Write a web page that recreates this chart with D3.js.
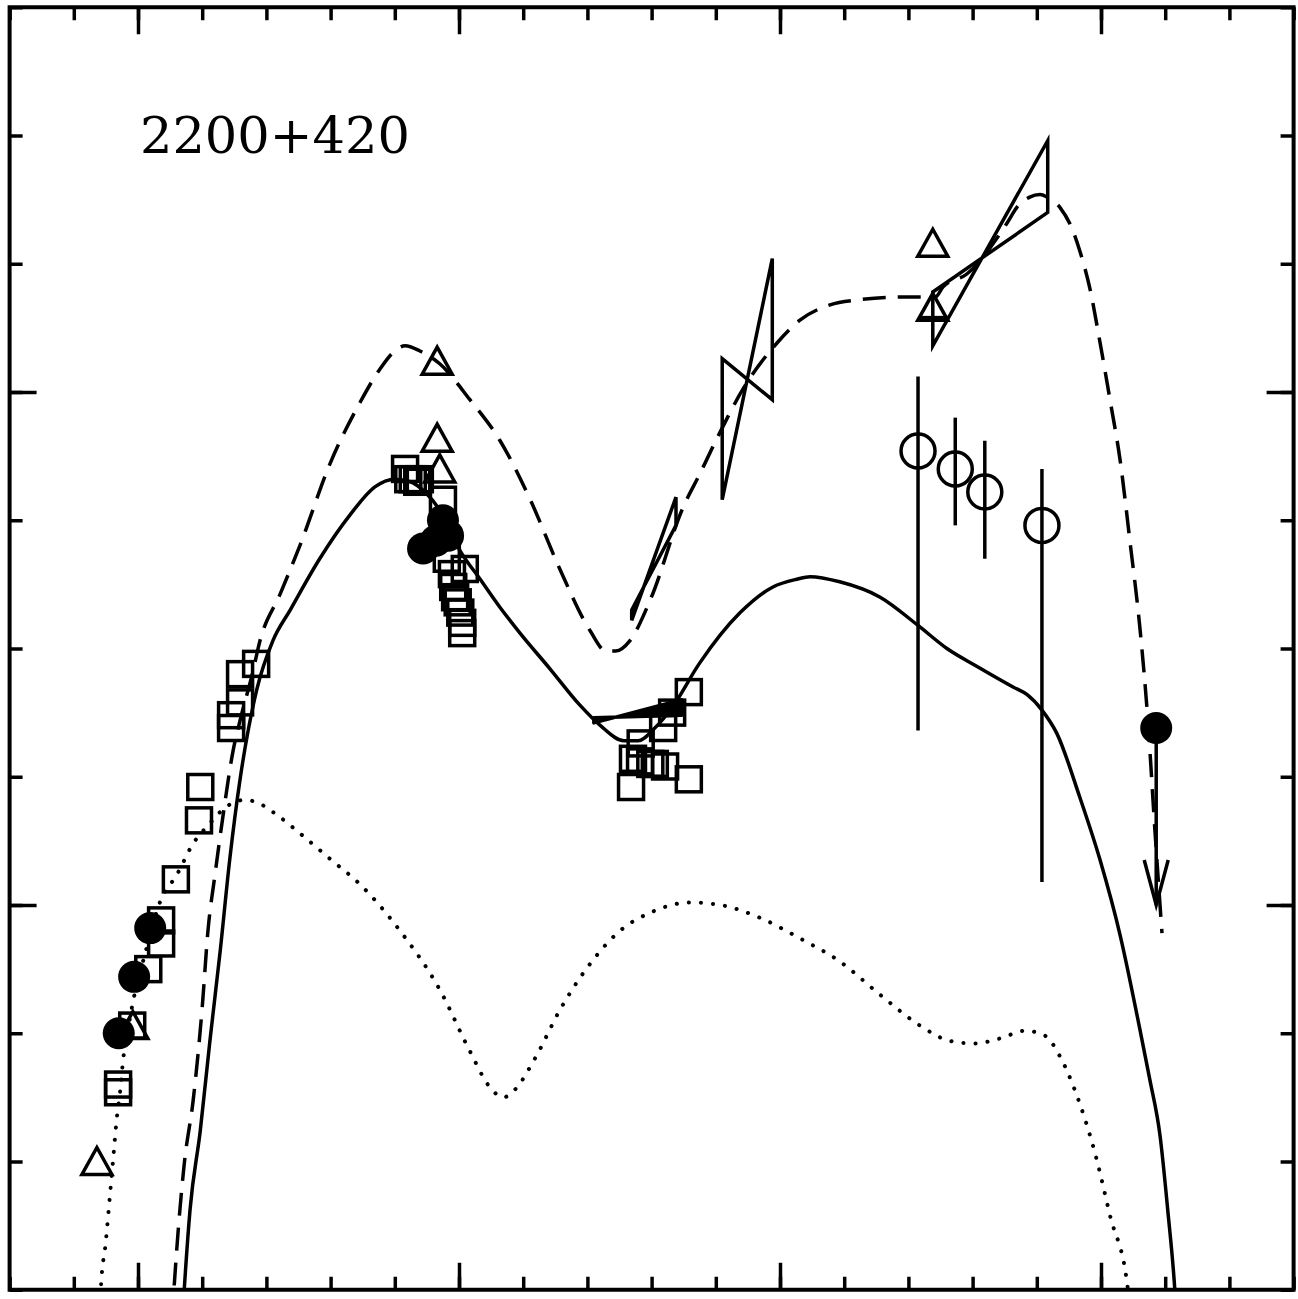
<!DOCTYPE html>
<html>
<head>
<meta charset="utf-8">
<script src="https://cdn.jsdelivr.net/npm/d3@7"></script>
<style>
  html, body { margin: 0; padding: 0; background: #fff; }
  svg { display: block; }
</style>
</head>
<body>
<svg id="chart" width="1298" height="1299"></svg>
<script>
// --- data: log nu [Hz] vs log nuFnu ---
const sourceName = "2200+420";

const xMinorTicks = d3.range(8, 29, 1);
const xMajorTicks = [10, 15, 20, 25];
const yMinorTicks = d3.range(-14.5, -9.49, 0.5);
const yMajorTicks = [-13, -11];

// model curves
const solidModel = [[10.69,-14.62],[10.72,-14.50],[10.81,-14.19],[10.97,-13.88],[11.12,-13.53],[11.28,-13.18],[11.43,-12.82],[11.59,-12.51],[11.85,-12.16],[12.10,-11.97],[12.37,-11.85],[12.83,-11.65],[13.30,-11.48],[13.69,-11.37],[14.00,-11.34],[14.24,-11.35],[14.47,-11.39],[14.70,-11.46],[15.02,-11.62],[15.33,-11.73],[15.64,-11.84],[15.95,-11.94],[16.42,-12.08],[16.88,-12.22],[17.20,-12.30],[17.57,-12.36],[17.79,-12.36],[18.05,-12.31],[18.32,-12.23],[18.74,-12.06],[19.38,-11.86],[19.89,-11.76],[20.26,-11.73],[20.47,-11.72],[20.93,-11.74],[21.56,-11.80],[22.15,-11.91],[22.60,-12.00],[23.07,-12.07],[23.63,-12.15],[23.85,-12.18],[24.08,-12.24],[24.31,-12.33],[24.67,-12.58],[24.98,-12.82],[25.30,-13.12],[25.61,-13.49],[25.76,-13.68],[25.92,-13.90],[26.04,-14.19],[26.15,-14.50],[26.18,-14.62]];

const dashedModel = [[10.53,-14.62],[10.56,-14.50],[10.72,-14.01],[10.86,-13.76],[11.00,-13.40],[11.09,-13.10],[11.20,-12.88],[11.32,-12.66],[11.48,-12.40],[11.59,-12.28],[11.78,-12.10],[11.90,-11.97],[12.21,-11.79],[12.52,-11.60],[12.99,-11.28],[13.46,-11.04],[13.77,-10.91],[14.00,-10.84],[14.16,-10.82],[14.39,-10.84],[14.70,-10.89],[15.17,-11.03],[15.64,-11.19],[16.11,-11.42],[16.57,-11.69],[17.04,-11.93],[17.29,-12.01],[17.44,-12.01],[17.66,-11.97],[17.98,-11.81],[18.49,-11.45],[18.75,-11.32],[19.02,-11.18],[19.42,-10.99],[19.95,-10.81],[20.31,-10.72],[20.78,-10.66],[21.25,-10.64],[21.87,-10.63],[22.42,-10.63],[22.54,-10.59],[22.91,-10.54],[23.54,-10.34],[23.69,-10.28],[23.89,-10.24],[24.05,-10.23],[24.16,-10.24],[24.36,-10.28],[24.56,-10.37],[24.67,-10.45],[24.83,-10.60],[24.98,-10.80],[25.14,-11.03],[25.30,-11.27],[25.45,-11.58],[25.61,-11.93],[25.73,-12.28],[25.84,-12.71],[25.95,-13.11]];

const dottedModel = [[9.40,-14.62],[9.42,-14.50],[9.50,-14.31],[9.56,-14.14],[9.61,-14.00],[9.67,-13.83],[9.72,-13.73],[9.77,-13.60],[9.84,-13.49],[9.92,-13.38],[10.11,-13.19],[10.34,-12.99],[10.61,-12.88],[10.86,-12.76],[11.09,-12.69],[11.36,-12.62],[11.67,-12.59],[11.85,-12.60],[12.17,-12.65],[12.52,-12.72],[12.99,-12.82],[13.46,-12.92],[14.08,-13.10],[14.70,-13.33],[15.17,-13.57],[15.48,-13.71],[15.69,-13.75],[15.87,-13.72],[16.18,-13.60],[16.57,-13.41],[17.04,-13.23],[17.51,-13.10],[17.98,-13.03],[18.60,-12.99],[19.07,-13.00],[19.69,-13.05],[20.31,-13.13],[20.93,-13.22],[21.56,-13.35],[22.18,-13.47],[22.65,-13.53],[23.04,-13.54],[23.43,-13.52],[23.82,-13.49],[24.13,-13.51],[24.36,-13.59],[24.59,-13.72],[24.92,-13.98],[25.14,-14.21],[25.42,-14.50],[25.45,-14.62]];

// observations
const squarePoints = [[9.69,-13.73],[9.69,-13.70],[9.91,-13.47],[10.16,-13.25],[10.36,-13.15],[10.36,-13.06],[10.59,-12.90],[10.95,-12.67],[10.97,-12.54],[11.45,-12.31],[11.45,-12.26],[11.59,-12.21],[11.59,-12.10],[11.84,-12.06],
  [14.16,-11.30],[14.21,-11.34],[14.28,-11.34],[14.35,-11.35],[14.39,-11.34],[14.75,-11.42],[14.81,-11.65],[15.09,-11.69],[14.89,-11.71],[14.91,-11.76],[14.94,-11.80],[14.98,-11.82],[15.02,-11.86],[15.05,-11.90],[15.05,-11.94],
  [18.58,-12.17],[18.32,-12.25],[18.18,-12.31],[17.83,-12.37],[17.71,-12.43],[17.82,-12.44],[17.98,-12.45],[18.05,-12.45],[18.21,-12.46],[18.58,-12.51],[17.68,-12.54]];

const filledPoints = [[9.70,-13.50],[9.94,-13.28],[10.19,-13.09],[14.75,-11.50],[14.83,-11.56],[14.64,-11.58],[14.44,-11.61]];

const trianglePoints = [[9.36,-14.00],[9.92,-13.47],[14.66,-10.88],[14.66,-11.18],[14.70,-11.30],[22.38,-10.42],[22.38,-10.67]];

// [x, y, yHigh, yLow]
const openCircles = [[22.15,-11.23,-10.94,-12.32],[22.73,-11.30,-11.10,-11.52],[23.19,-11.39,-11.19,-11.65],[24.08,-11.52,-11.30,-12.91]];

// horizontal error bars [xLow, xHigh, y]
const xErrorBars = [[22.15,22.62,-10.71]];

// upper limit [x, y, yArrowEnd]
const upperLimits = [[25.86,-12.31,-13.00]];

// bow ties [xLeft, xRight, leftTop, leftBottom, rightTop, rightBottom]
const bowTies = [[17.69,18.38,-11.85,-11.89,-11.41,-11.52],
  [19.10,19.88,-10.87,-11.42,-10.48,-11.03],
  [22.38,24.17,-10.61,-10.82,-10.02,-10.30]];
const xrayBowTie = [17.10,18.47,-12.27,-12.29,-12.20,-12.26];

// --- chart ---
const LW = 3.5; // line width used throughout
const svg = d3.select("#chart");
const x = d3.scaleLinear().domain([8, 28]).range([9.6, 1293.6]);
const y = d3.scaleLinear().domain([-14.5, -9.5]).range([1289.75, 7.25]);

svg.append("defs").append("clipPath").attr("id", "plotClip")
  .append("rect")
  .attr("x", x(8)).attr("y", y(-9.5))
  .attr("width", x(28) - x(8)).attr("height", y(-14.5) - y(-9.5));

const plot = svg.append("g").attr("clip-path", "url(#plotClip)");

const line = d3.line()
  .x((d) => x(d[0]))
  .y((d) => y(d[1]))
  .curve(d3.curveMonotoneX);

// model curves
plot.append("path").datum(dottedModel).attr("d", line)
  .attr("fill", "none").attr("stroke", "#000").attr("stroke-width", 4)
  .attr("stroke-linecap", "round").attr("stroke-dasharray", "0.1 12");
plot.append("path").datum(dashedModel).attr("d", line)
  .attr("fill", "none").attr("stroke", "#000").attr("stroke-width", LW)
  .attr("stroke-dasharray", "23 12");
plot.append("path").datum(solidModel).attr("d", line)
  .attr("fill", "none").attr("stroke", "#000").attr("stroke-width", LW);

// bow ties
const bowPath = (b) => `M${x(b[0])},${y(b[2])}L${x(b[1])},${y(b[5])}L${x(b[1])},${y(b[4])}L${x(b[0])},${y(b[3])}Z`;
plot.selectAll(".bow").data(bowTies).enter().append("path")
  .attr("class", "bow").attr("d", bowPath)
  .attr("fill", "none").attr("stroke", "#000").attr("stroke-width", LW)
  .attr("stroke-linejoin", "miter");
plot.append("path").datum(xrayBowTie).attr("d", bowPath)
  .attr("fill", "#000").attr("stroke", "#000").attr("stroke-width", LW)
  .attr("stroke-linejoin", "round");

// error bars
plot.selectAll(".ebar").data(openCircles).enter().append("line")
  .attr("x1", (d) => x(d[0])).attr("x2", (d) => x(d[0]))
  .attr("y1", (d) => y(d[2])).attr("y2", (d) => y(d[3]))
  .attr("stroke", "#000").attr("stroke-width", LW);
plot.selectAll(".xbar").data(xErrorBars).enter().append("line")
  .attr("x1", (d) => x(d[0])).attr("x2", (d) => x(d[1]))
  .attr("y1", (d) => y(d[2])).attr("y2", (d) => y(d[2]))
  .attr("stroke", "#000").attr("stroke-width", LW);

// open circles
plot.selectAll(".ocirc").data(openCircles).enter().append("circle")
  .attr("cx", (d) => x(d[0])).attr("cy", (d) => y(d[1])).attr("r", 17)
  .attr("fill", "none").attr("stroke", "#000").attr("stroke-width", LW);

// squares
plot.selectAll(".sq").data(squarePoints).enter().append("rect")
  .attr("x", (d) => x(d[0]) - 12.5).attr("y", (d) => y(d[1]) - 12.5)
  .attr("width", 25).attr("height", 25)
  .attr("fill", "none").attr("stroke", "#000").attr("stroke-width", LW);

// triangles
plot.selectAll(".tri").data(trianglePoints).enter().append("path")
  .attr("d", (d) => {
    const cx = x(d[0]), cy = y(d[1]);
    return `M${cx},${cy - 14}L${cx + 15},${cy + 13}L${cx - 15},${cy + 13}Z`;
  })
  .attr("fill", "none").attr("stroke", "#000").attr("stroke-width", LW)
  .attr("stroke-linejoin", "miter");

// filled circles
plot.selectAll(".fcirc").data(filledPoints).enter().append("circle")
  .attr("cx", (d) => x(d[0])).attr("cy", (d) => y(d[1])).attr("r", 16)
  .attr("fill", "#000");

// upper limit
upperLimits.forEach((d) => {
  const cx = x(d[0]), cy = y(d[1]), ye = y(d[2]);
  plot.append("line").attr("x1", cx).attr("x2", cx).attr("y1", cy).attr("y2", ye)
    .attr("stroke", "#000").attr("stroke-width", LW);
  plot.append("path").attr("d", `M${cx - 12},${ye - 45}L${cx},${ye}L${cx + 12},${ye - 45}`)
    .attr("fill", "none").attr("stroke", "#000").attr("stroke-width", LW);
  plot.append("circle").attr("cx", cx).attr("cy", cy).attr("r", 16).attr("fill", "#000");
});

// --- axes: ticks on all four sides, pointing inwards ---
function ticks(axisFn, scale, vals, len, transform) {
  svg.append("g").attr("transform", transform)
    .call(axisFn(scale).tickValues(vals).tickSize(-len).tickFormat(""))
    .call((g) => g.select(".domain").remove())
    .selectAll("line").attr("stroke", "#000").attr("stroke-width", LW);
}
ticks(d3.axisBottom, x, xMinorTicks, 13, `translate(0,${y(-14.5)})`);
ticks(d3.axisBottom, x, xMajorTicks, 27, `translate(0,${y(-14.5)})`);
ticks(d3.axisTop, x, xMinorTicks, 13, `translate(0,${y(-9.5)})`);
ticks(d3.axisTop, x, xMajorTicks, 27, `translate(0,${y(-9.5)})`);
ticks(d3.axisLeft, y, yMinorTicks, 13, `translate(${x(8)},0)`);
ticks(d3.axisLeft, y, yMajorTicks, 27, `translate(${x(8)},0)`);
ticks(d3.axisRight, y, yMinorTicks, 13, `translate(${x(28)},0)`);
ticks(d3.axisRight, y, yMajorTicks, 27, `translate(${x(28)},0)`);

svg.append("rect")
  .attr("x", x(8)).attr("y", y(-9.5))
  .attr("width", x(28) - x(8)).attr("height", y(-14.5) - y(-9.5))
  .attr("fill", "none").attr("stroke", "#000").attr("stroke-width", 4);

// source label
svg.append("text")
  .attr("x", x(10.03)).attr("y", y(-10.07))
  .attr("font-family", "'DejaVu Serif', serif")
  .attr("font-size", 51)
  .attr("textLength", 270).attr("lengthAdjust", "spacingAndGlyphs")
  .attr("fill", "#000")
  .text(sourceName);
</script>
</body>
</html>
